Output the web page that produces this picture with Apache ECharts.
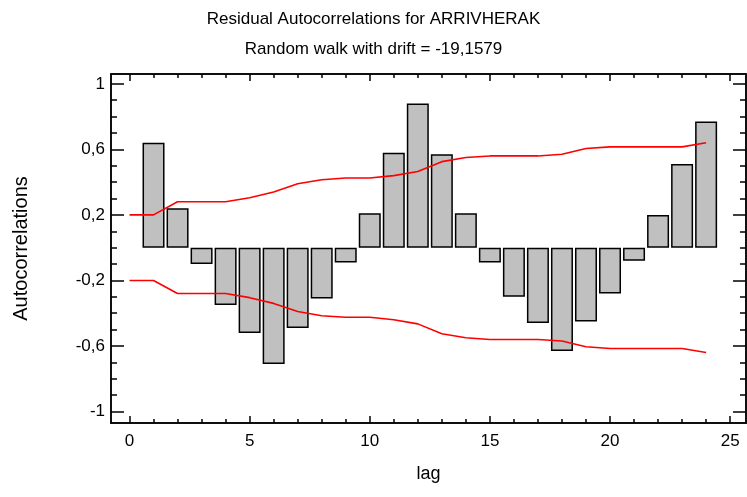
<!DOCTYPE html>
<html>
<head>
<meta charset="utf-8">
<script src="https://cdn.jsdelivr.net/npm/echarts@6/dist/echarts.min.js"></script>
<style>
html,body{margin:0;padding:0;background:#fff;}
#chart{width:747px;height:497px;}
</style>
</head>
<body>
<div id="chart"></div>
<script>
var titleText = 'Residual Autocorrelations for ARRIVHERAK';
var subtitleText = 'Random walk with drift = -19,1579';
var xName = 'lag';
var yName = 'Autocorrelations';

var lags = [1,2,3,4,5,6,7,8,9,10,11,12,13,14,15,16,17,18,19,20,21,22,23,24];
var acf = [0.64,0.24,-0.10,-0.35,-0.52,-0.71,-0.49,-0.31,-0.09,0.21,0.58,0.88,0.57,0.21,-0.09,-0.30,-0.46,-0.63,-0.45,-0.28,-0.08,0.20,0.51,0.77];

var limitLags = [0,1,2,3,4,5,6,7,8,9,10,11,12,13,14,15,16,17,18,19,20,21,22,23,24];
var upperLimit = [0.2,0.2,0.28,0.28,0.28,0.305,0.34,0.39,0.415,0.425,0.425,0.44,0.465,0.525,0.55,0.56,0.56,0.56,0.57,0.605,0.615,0.615,0.615,0.615,0.64];
var lowerLimit = [-0.2,-0.2,-0.28,-0.28,-0.28,-0.305,-0.34,-0.39,-0.415,-0.425,-0.425,-0.44,-0.465,-0.525,-0.55,-0.56,-0.56,-0.56,-0.57,-0.605,-0.615,-0.615,-0.615,-0.615,-0.64];

var xMajorTicks = [0,5,10,15,20,25];
var xMinorTicks = [0,1,2,3,4,5,6,7,8,9,10,11,12,13,14,15,16,17,18,19,20,21,22,23,24,25];
var yMajorTicks = [-1,-0.6,-0.2,0.2,0.6,1];
var yMinorTicks = [-1,-0.9,-0.8,-0.7,-0.6,-0.5,-0.4,-0.3,-0.2,-0.1,0,0.1,0.2,0.3,0.4,0.5,0.6,0.7,0.8,0.9,1];

var FONT = '"Liberation Sans", Arial, sans-serif';
var xMin = -0.77, xMax = 25.66, yMin = -1.07, yMax = 1.06;

function fmt(v){ return String(Math.round(v*10)/10).replace('.', ','); }

function xAx(pos, ticks, len, labels){
  return {
    type:'value', position:pos, min:xMin, max:xMax, gridIndex:0,
    axisLine:{show:true, onZero:false, lineStyle:{color:'#000', width:1.5}},
    axisTick:{show:true, inside:true, length:len, customValues:ticks, lineStyle:{color:'#000', width:1.5}},
    axisLabel:labels ? {show:true, customValues:xMajorTicks, color:'#000', fontSize:17, fontFamily:FONT, margin:10, formatter:function(v){return fmt(v);}} : {show:false},
    splitLine:{show:false},
    name: labels ? xName : '', nameLocation:'middle', nameGap:42,
    nameTextStyle:{color:'#000', fontSize:18, fontFamily:FONT}
  };
}
function yAx(pos, ticks, len, labels){
  return {
    type:'value', position:pos, min:yMin, max:yMax, gridIndex:0,
    axisLine:{show:true, onZero:false, lineStyle:{color:'#000', width:1.5}},
    axisTick:{show:true, inside:true, length:len, customValues:ticks, lineStyle:{color:'#000', width:1.5}},
    axisLabel:labels ? {show:true, customValues:yMajorTicks, color:'#000', fontSize:17, fontFamily:FONT, margin:6, formatter:function(v){return fmt(v);}} : {show:false},
    splitLine:{show:false},
    name: labels ? yName : '', nameLocation:'middle', nameGap:80, nameRotate:90,
    nameTextStyle:{color:'#000', fontSize:20, fontFamily:FONT}
  };
}

var chart = echarts.init(document.getElementById('chart'), null, {renderer:'canvas'});
chart.setOption({
  backgroundColor:'#fff',
  animation:false,
  title:[
    {text:titleText, left:'center', top:6, textStyle:{color:'#000', fontSize:17, fontWeight:'normal', fontFamily:FONT}},
    {text:subtitleText, left:'center', top:36, textStyle:{color:'#000', fontSize:17, fontWeight:'normal', fontFamily:FONT}}
  ],
  grid:{left:111, top:74, right:1, bottom:74, containLabel:false},
  xAxis:[
    xAx('bottom', xMajorTicks, 7, true),
    xAx('bottom', xMinorTicks, 4, false),
    xAx('top', xMajorTicks, 7, false),
    xAx('top', xMinorTicks, 4, false)
  ],
  yAxis:[
    yAx('left', yMajorTicks, 13, true),
    yAx('left', yMinorTicks, 6, false),
    yAx('right', yMajorTicks, 13, false),
    yAx('right', yMinorTicks, 6, false)
  ],
  series:[
    {
      type:'bar', xAxisIndex:0, yAxisIndex:0, barWidth:22,
      data: lags.map(function(l,i){return [l, acf[i]];}),
      itemStyle:{color:'#c0c0c0', borderColor:'#000', borderWidth:1.5},
      z:2
    },
    {
      type:'line', xAxisIndex:0, yAxisIndex:0, symbol:'none',
      data: limitLags.map(function(l,i){return [l, upperLimit[i]];}),
      lineStyle:{color:'#ff0000', width:1.6}, z:3
    },
    {
      type:'line', xAxisIndex:0, yAxisIndex:0, symbol:'none',
      data: limitLags.map(function(l,i){return [l, lowerLimit[i]];}),
      lineStyle:{color:'#ff0000', width:1.6}, z:3
    }
  ]
});
</script>
</body>
</html>
